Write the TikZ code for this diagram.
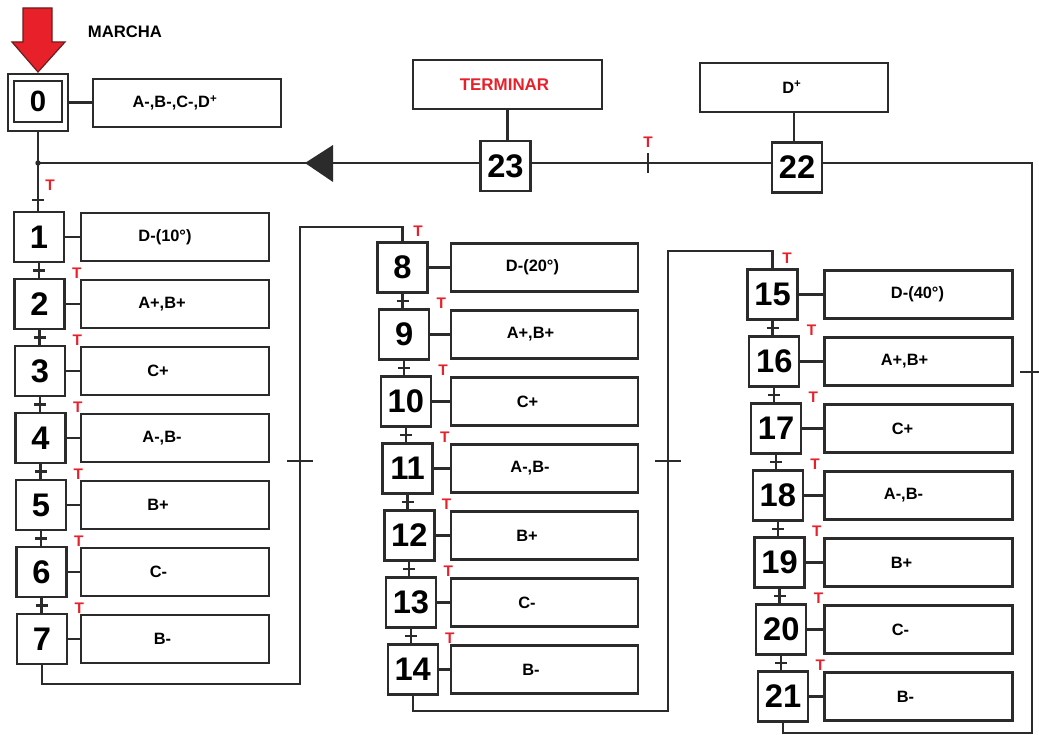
\documentclass[tikz,border=0pt]{standalone}
\usepackage{fontspec}
\setmainfont{Liberation Sans}
\usetikzlibrary{calc}
\newlength\pxu \setlength\pxu{0.75pt}
\definecolor{tred}{HTML}{E8202A}
\definecolor{ln}{HTML}{2B2B2B}
\tikzset{
 stepbox/.style={draw=ln, line width=1.8pt, fill=white, minimum width=50\pxu, minimum height=50\pxu, inner sep=0pt, font=\bfseries\fontsize{24.5}{24.5}\selectfont},
 actbox/.style={draw=ln, line width=1.8pt, minimum width=187\pxu, minimum height=48\pxu, inner sep=0pt, font=\bfseries\fontsize{12.3}{12.3}\selectfont},
 tlab/.style={text=tred, font=\bfseries\fontsize{11.5}{11.5}\selectfont, inner sep=0pt},
 wire/.style={draw=ln, line width=1.7pt},
}
\begin{document}
\begin{tikzpicture}[x=\pxu, y=-\pxu]
\useasboundingbox (0,0) rectangle (1039,735);

% start arrow and label
\fill[tred, draw=ln!70!red, line width=0.9pt] (23,8) -- (52,8) -- (52,42) -- (65,42) -- (38,72) -- (12,42) -- (23,42) -- cycle;
\node[font=\bfseries\fontsize{12.5}{12.5}\selectfont, inner sep=0pt] (marcha) at (125,32) {MARCHA};

% initial step 0
\node[stepbox, minimum width=48\pxu, minimum height=41\pxu, font=\bfseries\fontsize{22}{22}\selectfont] (s0) at (38,101.5) {0};
\node[draw=ln, line width=1.8pt, minimum width=60\pxu, minimum height=57\pxu, inner sep=0pt] (s0o) at (38,102.5) {};
\node[actbox, minimum width=188\pxu] (a0) at (187,103) {\hspace*{-24\pxu}A-,B-,C-,D\textsuperscript{+}};
\draw[wire] (s0o.east) -- (s0o.east -| a0.west);

% junction
\coordinate (dot) at (38,163);
\draw[wire] (s0o.south) -- (dot);
\fill[ln] (dot) circle (2pt);

% steps 23 and 22
\node[stepbox] (s23) at (505.5,166) {23};
\node[actbox, minimum width=189\pxu, minimum height=49\pxu, text=tred, font=\bfseries\fontsize{12.7}{12.7}\selectfont] (a23) at (507.5,84.5) {\hspace*{-6\pxu}TERMINAR};
\node[stepbox] (s22) at (797,167.5) {22};
\node[actbox, minimum width=188\pxu, minimum height=49\pxu] (a22) at (794,87.5) {\hspace*{-4\pxu}D\textsuperscript{+}};
\draw[wire] (a23.south) -- (a23.south |- s23.north);
\draw[wire] (a22.south) -- (a22.south |- s22.north);

\draw[wire] (dot) -- (dot -| s23.west);
\fill[ln] (305,163) -- (333,145) -- (333,182) -- cycle;
\draw[wire] (dot -| s23.east) -- (dot -| s22.west);
\coordinate (k22) at (648,163);
\draw[wire] ([yshift=10\pxu]k22) -- ([yshift=-10\pxu]k22);
\node[tlab] (T22) at (648,142) {T};

% column 1
\foreach \n/\lab/\off in {1/{D-(10°)}/20,2/{A+,B+}/26,3/{C+}/34,4/{A-,B-}/26,5/{B+}/34,6/{C-}/33,7/{B-}/25}{
  \pgfmathsetmacro\cx{39+0.5*(\n-1)}
  \pgfmathsetmacro\cy{237+67*(\n-1)}
  \node[stepbox] (s\n) at (\cx,\cy) {\n};
  \node[actbox, minimum width=188\pxu] (a\n) at (175,\cy) {\hspace*{-\off\pxu}\lab};
  \draw[wire] (s\n.east) -- (s\n.east -| a\n.west);
}
% column 2
\foreach \n/\lab/\off in {8/{D-(20°)}/24,9/{A+,B+}/28,10/{C+}/34,11/{A-,B-}/29,12/{B+}/35,13/{C-}/35,14/{B-}/27}{
  \pgfmathsetmacro\cx{402.5+1.7*(\n-8)}
  \pgfmathsetmacro\cy{267.5+67*(\n-8)}
  \node[stepbox] (s\n) at (\cx,\cy) {\n};
  \node[actbox] (a\n) at (544.5,\cy) {\hspace*{-\off\pxu}\lab};
  \draw[wire] (s\n.east) -- (s\n.east -| a\n.west);
}
% column 3
\foreach \n/\lab/\off in {15/{D-(40°)}/2,16/{A+,B+}/28,17/{C+}/32,18/{A-,B-}/30,19/{B+}/34,20/{C-}/36,21/{B-}/26}{
  \pgfmathsetmacro\cx{772.5+1.75*(\n-15)}
  \pgfmathsetmacro\cy{294.5+67*(\n-15)}
  \node[stepbox] (s\n) at (\cx,\cy) {\n};
  \node[actbox, minimum width=188\pxu] (a\n) at (918.5,\cy) {\hspace*{-\off\pxu}\lab};
  \draw[wire] (s\n.east) -- (s\n.east -| a\n.west);
}

% links between consecutive steps
\foreach \n in {2,...,7,9,10,...,14,16,17,...,21}{
  \pgfmathtruncatemacro\p{\n-1}
  \draw[wire] (s\p.south) -- (s\p.south |- s\n.north);
  \path (s\p.south) -- (s\p.south |- s\n.north) coordinate[midway] (k\n);
  \draw[wire] ([xshift=-6\pxu]k\n) -- ([xshift=6\pxu]k\n);
  \node[tlab] (T\n) at ([xshift=11\pxu, yshift=5\pxu]s\n.north east) {T};
}

% junction to step 1
\draw[wire] (dot) -- (dot |- s1.north);
\coordinate (k1) at (38,200);
\draw[wire] ([xshift=-6\pxu]k1) -- ([xshift=6\pxu]k1);
\node[tlab] (T1) at (50,185) {T};

% column 1 -> step 8
\coordinate (c1b) at (300,684);
\coordinate (c1t) at (300,227);
\draw[wire] (s7.south) |- (c1b) -- (c1t) -| (s8.north);
\coordinate (k8) at (300,461);
\draw[wire] ([xshift=-13\pxu]k8) -- ([xshift=13\pxu]k8);
\node[tlab] (T8) at (418,231) {T};

% column 2 -> step 15
\coordinate (c2b) at (668,711);
\coordinate (c2t) at (668,251);
\draw[wire] (s14.south) |- (c2b) -- (c2t) -| (s15.north);
\coordinate (k15) at (668,461);
\draw[wire] ([xshift=-13\pxu]k15) -- ([xshift=13\pxu]k15);
\node[tlab] (T15) at (787,258) {T};

% step 21 -> step 22
\coordinate (rtop) at (1032,163);
\coordinate (rbot) at (1032,733);
\draw[wire] (dot -| s22.east) -- (rtop) -- (rbot) -| (s21.south);
\coordinate (kr) at (1032,372);
\draw[wire] ([xshift=-12\pxu]kr) -- ([xshift=12\pxu]kr);
\end{tikzpicture}
\end{document}
